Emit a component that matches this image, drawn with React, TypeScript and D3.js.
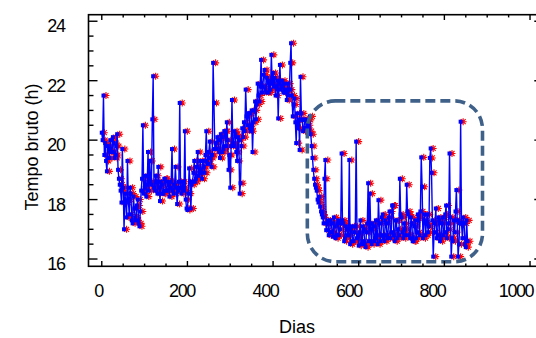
import React, { useEffect, useRef } from 'react';
import * as d3 from 'd3';

// raw time per reading, one reading every 2 days starting at day 0
const firstDay = 0;
const stepDays = 2;
const tempoBruto = [
  20.25, 20.0, 21.5, 19.5, 19.9, 19.3, 18.95, 19.8, 19.7, 19.4,
  20.0, 19.6, 19.6, 20.1, 19.9, 19.4, 19.5, 19.8, 20.2, 19.0,
  18.7, 18.5, 18.3, 17.9, 19.7, 18.4, 17.0, 18.2, 17.9, 17.4,
  19.3, 18.0, 17.5, 18.4, 18.2, 17.3, 17.2, 18.1, 17.7, 17.4,
  17.3, 17.8, 18.0, 17.2, 17.1, 17.6, 18.3, 18.7, 20.5, 18.2,
  18.4, 18.8, 18.1, 18.5, 19.6, 18.3, 19.3, 18.6, 18.5, 20.7,
  22.15, 18.4, 18.3, 18.8, 18.6, 18.2, 19.1, 18.4, 17.95, 18.6,
  18.5, 18.2, 18.2, 18.7, 18.7, 18.3, 18.3, 18.6, 18.5, 18.1,
  18.4, 18.6, 19.7, 18.3, 18.2, 18.5, 19.1, 18.4, 17.85, 18.3,
  18.6, 21.25, 18.4, 18.2, 18.6, 18.4, 18.3, 20.3, 18.0, 17.7,
  17.65, 18.2, 19.05, 18.6, 17.7, 18.5, 18.6, 18.9, 19.3, 18.6,
  18.7, 19.1, 19.6, 18.8, 18.9, 19.3, 19.0, 18.7, 19.3, 19.1,
  18.9, 19.5, 20.3, 19.3, 19.2, 19.6, 19.95, 19.4, 19.1, 19.5,
  22.6, 21.25, 19.7, 19.9, 19.7, 20.1, 20.0, 19.6, 19.4, 20.2,
  20.1, 19.6, 19.7, 20.3, 20.3, 19.8, 20.6, 20.0, 19.0, 19.5,
  18.4, 19.8, 21.35, 19.9, 19.8, 20.3, 20.2, 19.6, 19.3, 20.1,
  20.0, 18.2, 18.55, 19.8, 20.4, 20.1, 20.6, 20.3, 21.7, 20.8,
  20.5, 20.9, 20.9, 20.4, 20.3, 21.0, 19.6, 20.6, 21.0, 21.3,
  20.7, 21.2, 21.9, 21.5, 21.3, 21.8, 22.7, 21.6, 21.8, 22.2,
  22.36, 21.7, 21.6, 22.1, 22.0, 21.6, 21.9, 21.7, 22.87, 21.9,
  22.26, 21.8, 22.1, 21.5, 21.8, 22.0, 20.73, 21.9, 22.53, 21.7,
  21.8, 22.0, 21.6, 21.9, 21.6, 21.7, 21.35, 21.9, 21.5, 21.7,
  22.6, 23.26, 21.5, 20.8, 21.2, 21.4, 20.6, 19.9, 20.9, 20.4,
  20.7, 19.67, 22.13, 20.9, 20.68, 20.3, 20.4, 20.7, 20.68, 20.4,
  20.5, 20.68, 20.3, 20.8, 20.2, 19.8, 19.4, 19.0, 18.7, 18.5,
  18.4, 18.3, 18.0, 17.9, 18.1, 17.76, 17.6, 17.5, 17.4, 17.2,
  18.7, 19.33, 16.97, 17.2, 17.3, 16.8, 16.9, 17.3, 17.2, 16.9,
  16.75, 17.4, 17.1, 16.7, 16.8, 17.2, 17.3, 16.8, 17.0, 17.2,
  19.55, 17.3, 17.2, 16.6, 16.7, 17.1, 17.0, 16.8, 16.8, 19.33,
  16.5, 17.0, 17.1, 16.6, 16.6, 16.9, 17.1, 19.95, 16.7, 16.8,
  16.45, 16.9, 17.3, 16.5, 16.6, 17.1, 17.0, 16.5, 16.4, 16.9,
  17.2, 18.55, 16.6, 18.2, 17.0, 16.5, 17.2, 17.1, 16.6, 16.7,
  17.3, 16.8, 16.5, 17.98, 17.2, 16.6, 16.8, 17.4, 17.5, 16.7,
  16.6, 17.3, 17.2, 16.8, 16.7, 17.4, 17.6, 16.7, 16.9, 17.8,
  17.8, 16.8, 16.6, 17.3, 17.3, 16.7, 17.0, 16.8, 18.7, 17.5,
  17.4, 16.9, 16.7, 17.2, 17.0, 16.8, 18.5, 17.6, 17.5, 16.8,
  16.7, 17.4, 17.2, 16.6, 16.6, 17.1, 17.3, 16.7, 16.9, 17.5,
  17.4, 16.8, 17.6, 19.42, 18.43, 16.7, 17.3, 17.5, 16.8, 17.2,
  17.5, 16.9, 17.1, 19.4, 19.72, 18.9, 17.3, 16.08, 16.9, 17.2,
  17.7, 16.7, 16.8, 17.4, 17.3, 16.6, 16.7, 17.2, 17.4, 16.8,
  16.9, 17.5, 17.8, 16.7, 17.0, 17.2, 19.55, 17.4, 16.08, 16.7,
  16.6, 17.3, 16.9, 17.6, 18.32, 17.3, 16.08, 16.5, 17.2, 20.62,
  17.2, 16.7, 17.4, 17.2, 16.5, 16.4, 17.3, 16.6,
];

const xTicks = [0, 200, 400, 600, 800, 1000];
const yTicks = [16, 18, 20, 22, 24];
// highlighted period (days / hours)
const destaqueDias = [480, 889];
const destaqueHoras = [15.91, 21.32];

const W = 536;
const H = 338;
const font = "'Liberation Sans', Arial, sans-serif";

const App = () => {
  const ref = useRef<SVGSVGElement>(null);

  useEffect(() => {
    const svg = d3.select(ref.current);
    svg.selectAll('*').remove();

    const left = 88.5, right = 543.3, top = 14.7, bottom = 266.3;

    const x = d3.scaleLinear().domain([-31, 1031]).range([left, right]);
    const y = d3.scaleLinear().domain([15.755, 24.22]).range([bottom, top]);
    // tick labels in the original sit slightly compressed to the left
    const xLab = d3.scaleLinear().domain([0, 1000]).range([98.5, 516]);

    const data = tempoBruto.map((v, i) => ({ dia: firstDay + i * stepDays, v }));

    // red star markers (behind, slightly offset)
    const star = 'M-3.5,0L3.5,0M0,-3.5L0,3.5M-2.5,-2.5L2.5,2.5M-2.5,2.5L2.5,-2.5';
    svg.append('g')
      .selectAll('path')
      .data(data)
      .enter().append('path')
      .attr('d', star)
      .attr('transform', d => `translate(${x(d.dia) + 2.5},${y(d.v)})`)
      .attr('stroke', '#ff0000')
      .attr('stroke-width', 1.1)
      .attr('fill', 'none');

    // blue line
    const line = d3.line<{ dia: number; v: number }>()
      .x(d => x(d.dia))
      .y(d => y(d.v));
    svg.append('path')
      .datum(data)
      .attr('d', line)
      .attr('fill', 'none')
      .attr('stroke', '#0000ff')
      .attr('stroke-width', 1.4);

    // blue squares
    svg.append('g')
      .selectAll('rect')
      .data(data)
      .enter().append('rect')
      .attr('x', d => x(d.dia) - 2)
      .attr('y', d => y(d.v) - 2)
      .attr('width', 4)
      .attr('height', 4)
      .attr('fill', '#0000ff');

    // dashed highlight box
    svg.append('rect')
      .attr('x', x(destaqueDias[0]))
      .attr('y', y(destaqueHoras[1]))
      .attr('width', x(destaqueDias[1]) - x(destaqueDias[0]))
      .attr('height', y(destaqueHoras[0]) - y(destaqueHoras[1]))
      .attr('rx', 28)
      .attr('ry', 28)
      .attr('fill', 'none')
      .attr('stroke', '#3f6189')
      .attr('stroke-width', 3.6)
      .attr('stroke-dasharray', '10 5');

    // frame
    svg.append('rect')
      .attr('x', left)
      .attr('y', top)
      .attr('width', right - left)
      .attr('height', bottom - top)
      .attr('fill', 'none')
      .attr('stroke', '#000')
      .attr('stroke-width', 1.6);

    const ticks = svg.append('g').attr('stroke', '#000').attr('stroke-width', 1.4);
    // x ticks, top and bottom, pointing inward
    d3.range(0, 1001, 50).forEach(t => {
      const len = t % 200 === 0 ? 5.3 : 2.7;
      ticks.append('line').attr('x1', x(t)).attr('x2', x(t)).attr('y1', bottom).attr('y2', bottom - len);
      ticks.append('line').attr('x1', x(t)).attr('x2', x(t)).attr('y1', top).attr('y2', top + len);
    });
    // y ticks, left and right
    d3.range(16, 24.01, 0.5).forEach(t => {
      const len = t % 2 === 0 ? 9 : 5;
      ticks.append('line').attr('x1', left).attr('x2', left + len).attr('y1', y(t)).attr('y2', y(t));
      ticks.append('line').attr('x1', right).attr('x2', right - len).attr('y1', y(t)).attr('y2', y(t));
    });

    // tick labels
    svg.append('g')
      .selectAll('text')
      .data(xTicks)
      .enter().append('text')
      .attr('x', d => xLab(d))
      .attr('y', bottom + 30.2)
      .attr('text-anchor', 'middle')
      .attr('font-family', font)
      .attr('font-size', 18)
      .attr('letter-spacing', -1.4)
      .text(d => d);

    svg.append('g')
      .selectAll('text')
      .data(yTicks)
      .enter().append('text')
      .attr('x', 64.5)
      .attr('y', d => y(d) + 11)
      .attr('text-anchor', 'end')
      .attr('font-family', font)
      .attr('font-size', 18)
      .attr('letter-spacing', -1.4)
      .text(d => d);

    // axis titles
    svg.append('text')
      .attr('x', 297)
      .attr('y', 332.5)
      .attr('text-anchor', 'middle')
      .attr('font-family', font)
      .attr('font-size', 18)
      .text('Dias');

    svg.append('text')
      .attr('transform', 'translate(38,147) rotate(-90)')
      .attr('text-anchor', 'middle')
      .attr('font-family', font)
      .attr('font-size', 18)
      .text('Tempo bruto (h)');
  }, []);

  return (
    <svg
      ref={ref}
      width={W}
      height={H}
      style={{ position: 'absolute', left: 0, top: 0, background: '#fff' }}
    ></svg>
  );
};

export default App;
